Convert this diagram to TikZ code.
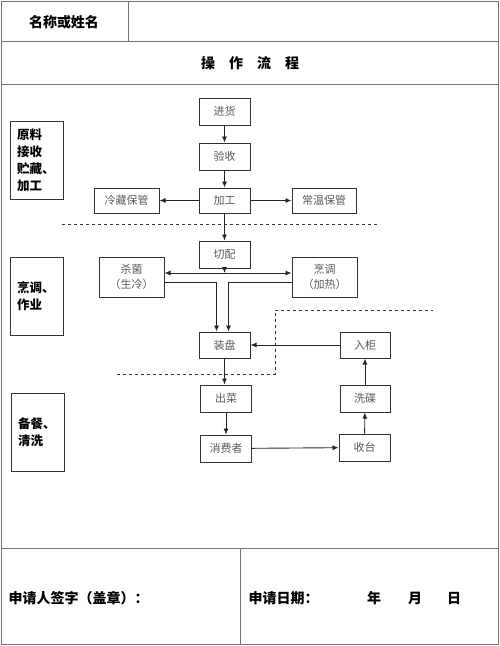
\documentclass[tikz,border=0pt]{standalone}
\usepackage{fontspec}
\newfontfamily\cjk{Noto Sans CJK SC}
\usepackage{tikz}
\usetikzlibrary{positioning,arrows.meta}

\begin{document}
\begin{tikzpicture}[x=1pt,y=-1pt,
		proc/.style={draw=black!80, line width=1pt, minimum width=51pt, minimum height=27pt, inner sep=1pt, align=center, text=black!65, font=\cjk\fontsize{11}{15}\selectfont},
		stage/.style={draw=black!80, line width=1pt, minimum width=53pt, minimum height=78pt, inner xsep=7pt, text width=39pt, align=left, font=\cjk\bfseries\fontsize{12.5}{17}\selectfont},
		cell/.style={font=\cjk\bfseries\fontsize{14}{16}\selectfont},
		flow/.style={-{Latex[length=6pt,width=5pt]}, line width=0.9pt, black!85},
		sep/.style={dashed, line width=0.9pt, black!80},
		frame/.style={line width=1pt, black!55}]
	\useasboundingbox (0,0) rectangle (500,646);
	
	% form
	\draw[frame] (1,1) rectangle (498,644);
	\draw[frame] (1,41) -- (498,41);
	\draw[frame] (1,84) -- (498,84);
	\draw[frame] (1,548) -- (498,548);
	\draw[frame] (128,1) -- (128,41);
	\draw[frame] (240,548) -- (240,644);
	\node[cell] (name) at (64,22) {名称或姓名};
	\node[cell] (title) at (250,63) {操\hspace{1em}作\hspace{1em}流\hspace{1em}程};
	\node[cell, anchor=west] (sign) at (5,598) {申请人签字（盖章）：};
	\node[cell, anchor=west] (date) at (245,598) {申请日期：};
	\node[cell] (nian) at (374,598) {年};
	\node[cell] (yue) at (415,598) {月};
	\node[cell] (ri) at (454,598) {日};
	
	% stages
	\node[stage] (stage1) at (36.5,160) {原料\\接收\\贮藏、\\加工};
	\node[stage] (stage2) at (36.5,296) {烹调、\\作业};
	\node[stage] (stage3) at (37.5,432) {备餐、\\清洗};
	
	% flow
	\node[proc] (jinhuo) at (224.5,111.5) {进货};
	\node[proc, below=17pt of jinhuo] (yanshou) {验收};
	\node[proc, below=17pt of yanshou, minimum height=25pt] (jiagong) {加工};
	\node[proc, left=39pt of jiagong, minimum width=65pt, minimum height=25pt] (lengcang) {冷藏保管};
	\node[proc, right=41pt of jiagong, minimum width=64pt, minimum height=25pt] (changwen) {常温保管};
	\node[proc, below=27pt of jiagong] (qiepei) {切配};
	\node[proc, minimum width=65pt, minimum height=40pt] (shajun) at (131.5,277) {杀菌\\（生冷）};
	\node[proc, minimum width=65pt, minimum height=40pt] (pengtiao) at (324.5,277) {烹调\\（加热）};
	\node[proc, minimum height=26pt] (zhuangpan) at (224.5,345) {装盘};
	\node[proc, minimum width=50pt, minimum height=26pt] (rugui) at (365,345) {入柜};
	\node[proc] (chucai) at (226,398.5) {出菜};
	\node[proc, minimum width=50pt] (xidie) at (365,398.5) {洗碟};
	\node[proc, below=22pt of chucai] (xiaofei) {消费者};
	\node[proc] (shoutai) at (364.5,447.5) {收台};
	\coordinate (hub) at (224.5,273);
	
	\draw[flow] (jinhuo) -- (yanshou);
	\draw[flow] (yanshou) -- (jiagong);
	\draw[flow] (jiagong) -- (lengcang);
	\draw[flow] (jiagong) -- (changwen);
	\draw[flow] (jiagong) -- (qiepei);
	\draw[flow] (qiepei) -- (hub);
	\draw[flow] (hub) -- (shajun.east |- hub);
	\draw[flow] (hub) -- (pengtiao.west |- hub);
	\draw[flow] ([yshift=-5pt]shajun.east) -| ([xshift=-8pt]zhuangpan.north);
	\draw[flow] ([yshift=-5pt]pengtiao.west) -| ([xshift=4pt]zhuangpan.north);
	\draw[flow] (rugui) -- (zhuangpan);
	\draw[flow] (zhuangpan.south) -- (zhuangpan.south |- chucai.north);
	\draw[flow] (chucai) -- (xiaofei);
	\draw[flow] (xiaofei) -- (shoutai);
	\draw[flow] (shoutai) -- (xidie);
	\draw[flow] (xidie) -- (rugui);
	
	% stage borders
	\draw[sep] (62,224) -- (380,224);
	\draw[sep] (117,374) -- (275,374) -- (275,310) -- (433,310);
	
\end{tikzpicture}
\end{document}
